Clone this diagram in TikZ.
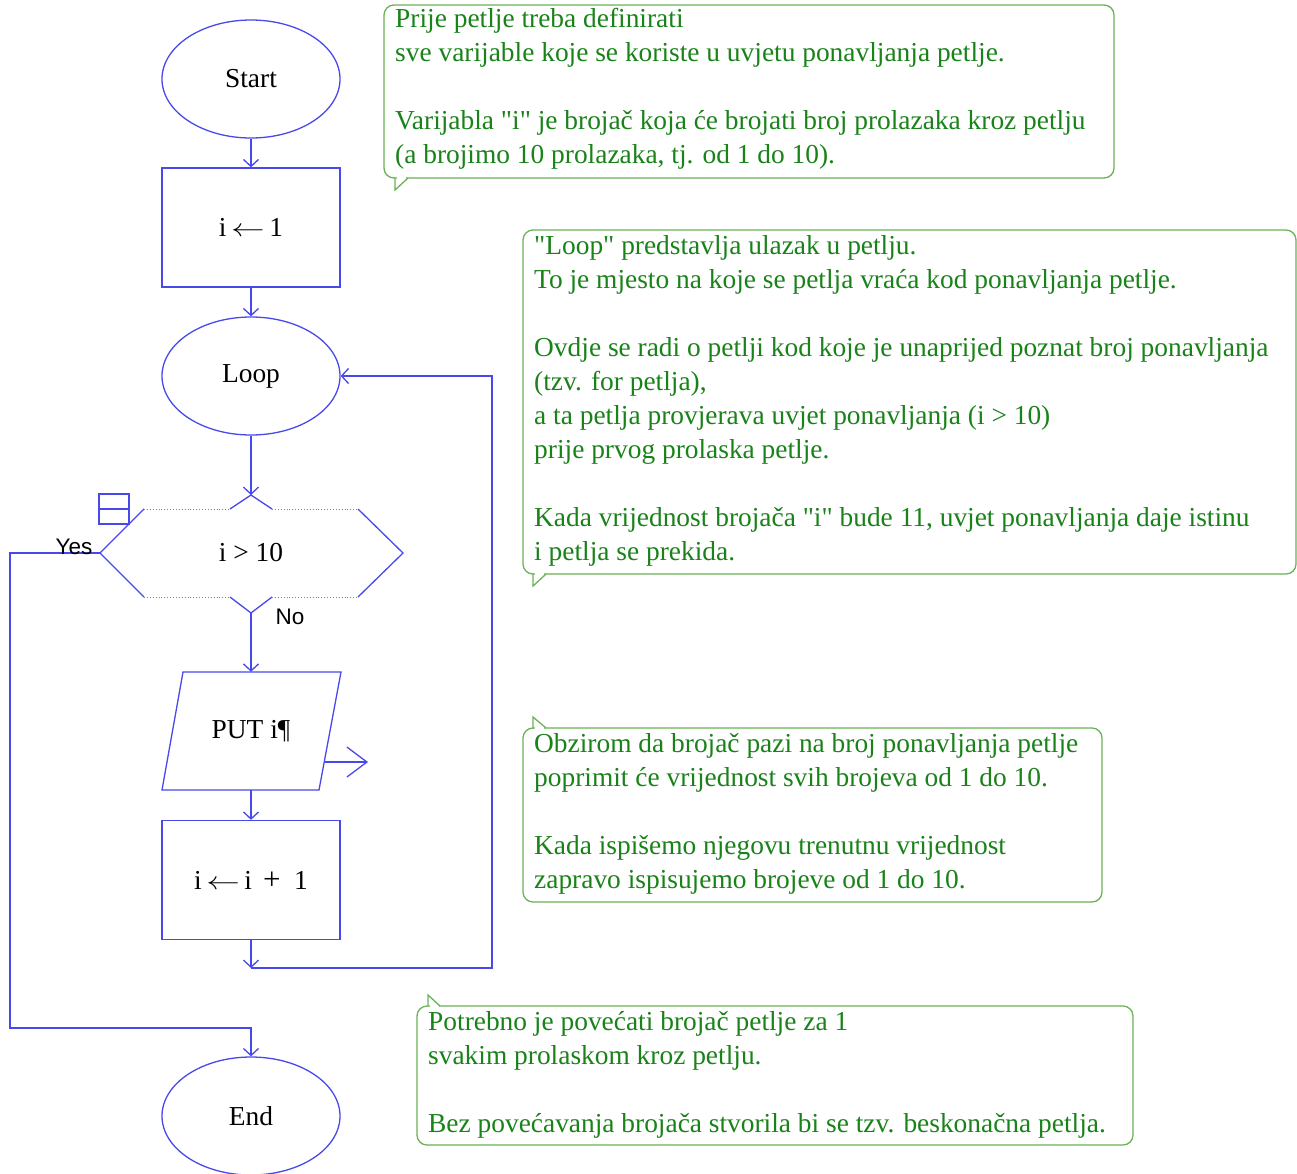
\documentclass[tikz,border=0pt]{standalone}
\usepackage{fontspec}
\setmainfont{Liberation Serif}
\newfontfamily\labelsans{Liberation Sans}
\usetikzlibrary{arrows.meta,shapes.geometric}
\definecolor{flowblue}{RGB}{72,72,235}
\definecolor{noteedge}{RGB}{105,178,85}
\definecolor{notetext}{RGB}{25,130,25}
\newcommand{\larr}{\scalebox{1.35}[1]{\ensuremath{\leftarrow}}}
\newcommand{\dq}{\textquotedbl}
\begin{document}
\begin{tikzpicture}[x=1pt,y=-1pt,
  flowline/.style={draw=flowblue, line width=1.3pt},
  conn/.style={flowline, -{Straight Barb[length=7pt,width=15pt]}},
  term/.style={flowline, ellipse, minimum width=178pt, minimum height=118pt, inner sep=0pt,
    font=\fontsize{27.4}{31}\selectfont},
  procbox/.style={flowline, rectangle, minimum width=178pt, minimum height=119pt, inner sep=0pt,
    font=\fontsize{27.4}{31}\selectfont},
  plaintext/.style={inner sep=0pt, font=\fontsize{27.4}{31}\selectfont},
  branchlabel/.style={inner sep=0pt, font=\labelsans\fontsize{22.5}{26}\selectfont},
  dotedge/.style={draw=flowblue!75, line width=0.9pt, dotted},
  noteframe/.style={draw=noteedge, line width=1.3pt, fill=white},
  notebody/.style={text=notetext, inner sep=0pt, anchor=north west, align=left,
    font=\fontsize{27.4}{34}\selectfont}
]
\useasboundingbox (0,0) rectangle (1297,1173);

% ---------- flowchart nodes ----------
\node[term] (start) at (251,79) {Start};
\node[procbox] (init) at (251,227.5) {i\,\larr\,1};
\node[term] (loop) at (251,376) {\raisebox{-3pt}{Loop}};
\node[plaintext] (cond) at (251,553) {i > 10};
\node[plaintext, minimum width=178pt, minimum height=118pt] (put) at (251,731) {PUT i¶};
\node[procbox] (inc) at (251,880) {i\,\larr\,i\hspace{0.4em}{\fontsize{31}{31}\selectfont +}\hspace{0.5em}1};
\node[term] (end) at (251,1116) {End};

% decision hexagon: solid slanted sides, dotted horizontal edges
\coordinate (dtop) at (251,495);
\coordinate (dbot) at (251,613);
\coordinate (dleft) at (100,553);
\coordinate (dright) at (403,553);
\draw[flowline] (230,509) -- (dtop) -- (272,509);
\draw[flowline] (230,597) -- (dbot) -- (272,597);
\draw[flowline] (144,509) -- (dleft) -- (144,597);
\draw[flowline] (358,509) -- (dright) -- (358,597);
\draw[dotedge] (144,509) -- (230,509) (272,509) -- (358,509)
               (144,597) -- (230,597) (272,597) -- (358,597);
% small marker box beside the decision
\draw[flowline] (99,494) rectangle (129,524) (99,509) -- (129,509);

% parallelogram of the output step
\draw[flowline] (183,672) -- (341,672) -- (319,790) -- (162,790) -- cycle;
\coordinate (putout) at (325,762);
\coordinate (outtip) at (368,762);
\draw[flowline, -{Straight Barb[length=20pt,width=30pt]}] (putout) -- (outtip);

% ---------- connectors ----------
\draw[conn] (start.south) -- (init.north);
\draw[conn] (init.south) -- (loop.north);
\draw[conn] (loop.south) -- (dtop);
\draw[conn] (dbot) -- (put.north);
\draw[conn] (put.south) -- (inc.north);
\coordinate (backjoin) at (251,968);
\draw[conn] (inc.south) -- (backjoin);
\draw[conn] (backjoin) -- (492,968) -- (492,376) -- (loop.east);
\draw[conn] (dleft) -- (10,553) -- (10,1028) -- (251,1028) -- (end.north);

\node[branchlabel] (yes) at (74,547) {Yes};
\node[branchlabel] (no) at (290,617) {No};

% ---------- notes ----------
% note 1 (tail below, left)
\draw[noteframe, rounded corners=10pt] (384,5) rectangle (1114,178);
\draw[white, line width=2pt] (396.5,178) -- (406,178);
\draw[draw=noteedge, line width=1.3pt] (395,178) -- (395,190) -- (408,178);
\node[notebody] (note1) at (395,8) {Prije petlje treba definirati\\
sve varijable koje se koriste u uvjetu ponavljanja petlje.\\[34pt]
Varijabla \dq i\dq{} je brojač koja će brojati broj prolazaka kroz petlju\\
(a brojimo 10 prolazaka, tj. od 1 do 10).};

% note 2 (tail below, left)
\draw[noteframe, rounded corners=10pt] (523,230) rectangle (1296,574);
\draw[white, line width=2pt] (534.5,574) -- (544,574);
\draw[draw=noteedge, line width=1.3pt] (533,574) -- (533,586) -- (546,574);
\node[notebody] (note2) at (534,235) {\dq Loop\dq{} predstavlja ulazak u petlju.\\
To je mjesto na koje se petlja vraća kod ponavljanja petlje.\\[34pt]
Ovdje se radi o petlji kod koje je unaprijed poznat broj ponavljanja\\
(tzv. for petlja),\\
a ta petlja provjerava uvjet ponavljanja (i > 10)\\
prije prvog prolaska petlje.\\[34pt]
Kada vrijednost brojača \dq i\dq{} bude 11, uvjet ponavljanja daje istinu\\
i petlja se prekida.};

% note 3 (tail above, left)
\draw[noteframe, rounded corners=10pt] (523,728) rectangle (1102,902);
\draw[white, line width=2pt] (534.5,728) -- (544,728);
\draw[draw=noteedge, line width=1.3pt] (533,728) -- (533,717) -- (546,728);
\node[notebody] (note3) at (534,733) {Obzirom da brojač pazi na broj ponavljanja petlje\\
poprimit će vrijednost svih brojeva od 1 do 10.\\[34pt]
Kada ispišemo njegovu trenutnu vrijednost\\
zapravo ispisujemo brojeve od 1 do 10.};

% note 4 (tail above, left)
\draw[noteframe, rounded corners=10pt] (417,1006) rectangle (1133,1145);
\draw[white, line width=2pt] (429.5,1006) -- (439,1006);
\draw[draw=noteedge, line width=1.3pt] (428,1006) -- (428,995) -- (440,1006);
\node[notebody] (note4) at (428,1011) {Potrebno je povećati brojač petlje za 1\\
svakim prolaskom kroz petlju.\\[34pt]
Bez povećavanja brojača stvorila bi se tzv. beskonačna petlja.};
\end{tikzpicture}
\end{document}
